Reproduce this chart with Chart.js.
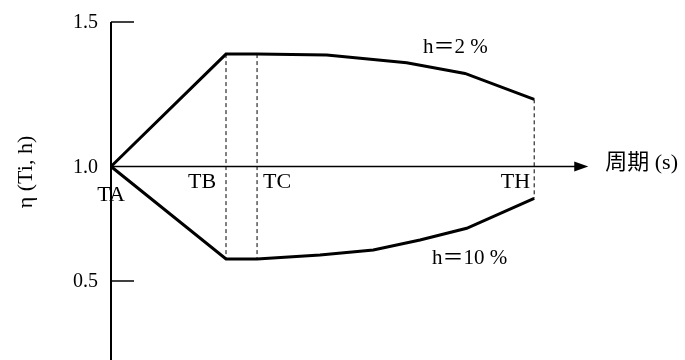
<!DOCTYPE html>
<html><head><meta charset="utf-8">
<script src="https://cdn.jsdelivr.net/npm/chart.js@4/dist/chart.umd.min.js"></script>
<style>html,body{margin:0;padding:0;background:#fff}#wrap{width:685px;height:360px}</style>
</head><body><div id="wrap"><canvas id="c" width="685" height="360"></canvas></div>
<script>
// ---- data ----
const periodLabels = ["TA", "TB", "TC", "TH"];
const periodValues = [0, 1.0, 1.27, 3.68];
const yTickValues = [1.5, 1.0, 0.5];
const yTickLabels = ["1.5", "1.0", "0.5"];
const h2X = [0, 1.0, 1.27, 1.876, 2.571, 3.078, 3.68];
const h2Y = [1.0, 1.389, 1.389, 1.386, 1.359, 1.322, 1.2325];
const h10X = [0, 1.0, 1.27, 1.817, 2.281, 2.687, 3.093, 3.68];
const h10Y = [1.0, 0.596, 0.596, 0.614, 0.635, 0.679, 0.730, 0.861];
const seriesLabels = ["h\uFF1D2 %", "h\uFF1D10 %"];
const seriesLabelAt = [[2.713, 1.413], [2.791, 0.600]];
const xTitle = "周期 (s)";
const yTitle = "\u03B7 (Ti, h)";

// piecewise vertical scale: above 1.0 stretched
class PiecewiseScale extends Chart.LinearScale {
  static id = 'piecewise';
  static defaults = {};
  _f(v){ const k = this.options.stretch || 1, b = this.options.breakAt || 1; return v < b ? v : b + (v - b) * k; }
  _fi(f){ const k = this.options.stretch || 1, b = this.options.breakAt || 1; return f < b ? f : b + (f - b) / k; }
  getPixelForValue(v){
    const a = this._f(this.min), z = this._f(this.max);
    return this.bottom - (this._f(v) - a) / (z - a) * (this.bottom - this.top);
  }
  getValueForPixel(p){
    const a = this._f(this.min), z = this._f(this.max);
    return this._fi(a + (this.bottom - p) / (this.bottom - this.top) * (z - a));
  }
}
Chart.register(PiecewiseScale);

const toPts = (xs, ys) => xs.map((x, i) => ({x, y: ys[i]}));
const serif = '"Liberation Serif", "DejaVu Serif", serif';
const cjk = '"Liberation Serif", "Noto Sans CJK SC", serif';

const overlay = {
  id: 'overlay',
  beforeDatasetsDraw(chart){
    const ctx = chart.ctx, xs = chart.scales.x, ys = chart.scales.y;
    const x0 = xs.getPixelForValue(0), y1 = ys.getPixelForValue(1.0);
    ctx.save();
    ctx.strokeStyle = '#000'; ctx.fillStyle = '#000';
    // y axis
    ctx.lineWidth = 2;
    ctx.beginPath(); ctx.moveTo(x0, ys.getPixelForValue(1.5)); ctx.lineTo(x0, chart.height); ctx.stroke();
    // y ticks (inside)
    ctx.lineWidth = 1.5;
    [1.5, 0.5].forEach(v => { const y = ys.getPixelForValue(v); ctx.beginPath(); ctx.moveTo(x0, y); ctx.lineTo(x0 + 23, y); ctx.stroke(); });
    // x axis with arrow
    const xe = xs.getPixelForValue(4.15);
    ctx.lineWidth = 1.3;
    ctx.beginPath(); ctx.moveTo(x0, y1); ctx.lineTo(xe - 12, y1); ctx.stroke();
    ctx.beginPath(); ctx.moveTo(xe, y1); ctx.lineTo(xe - 14, y1 - 5); ctx.lineTo(xe - 14, y1 + 5); ctx.closePath(); ctx.fill();
    // dashed verticals
    ctx.lineWidth = 1; ctx.setLineDash([4, 3]);
    const dv = [[periodValues[1], h2Y[1], h10Y[1]], [periodValues[2], h2Y[2], h10Y[2]], [periodValues[3], h2Y[h2Y.length-1], h10Y[h10Y.length-1]]];
    dv.forEach(([xv, a, b]) => { const px = xs.getPixelForValue(xv); ctx.beginPath(); ctx.moveTo(px, ys.getPixelForValue(a)); ctx.lineTo(px, ys.getPixelForValue(b)); ctx.stroke(); });
    ctx.setLineDash([]);
    // tick labels
    ctx.font = '20px ' + serif; ctx.textAlign = 'right'; ctx.textBaseline = 'middle';
    yTickValues.forEach((v, i) => ctx.fillText(yTickLabels[i], x0 - 13, ys.getPixelForValue(v) + 1));
    // period labels
    ctx.font = '22px ' + serif; ctx.textBaseline = 'middle';
    const offs = [[0, 'center', 29], [-24, 'center', 16], [6, 'left', 16], [-4, 'right', 16]];
    periodLabels.forEach((t, i) => { ctx.textAlign = offs[i][1]; ctx.fillText(t, xs.getPixelForValue(periodValues[i]) + offs[i][0], y1 + offs[i][2]); });
    // series labels
    ctx.font = '21px ' + cjk; ctx.textAlign = 'left';
    seriesLabels.forEach((t, i) => ctx.fillText(t, xs.getPixelForValue(seriesLabelAt[i][0]), ys.getPixelForValue(seriesLabelAt[i][1])));
    // axis titles
    ctx.font = '22px ' + cjk; ctx.textAlign = 'left';
    ctx.fillText(xTitle, xe + 17, y1 - 3);
    ctx.save(); ctx.translate(26, 172); ctx.rotate(-Math.PI / 2);
    ctx.font = '22px ' + serif; ctx.textAlign = 'center'; ctx.fillText(yTitle, 0, 0); ctx.restore();
    ctx.restore();
  }
};

new Chart(document.getElementById('c'), {
  type: 'line',
  data: { datasets: [
    { label: seriesLabels[0], data: toPts(h2X, h2Y), borderColor: '#000', borderWidth: 3, pointRadius: 0, tension: 0, fill: false },
    { label: seriesLabels[1], data: toPts(h10X, h10Y), borderColor: '#000', borderWidth: 3, pointRadius: 0, tension: 0, fill: false }
  ]},
  options: {
    responsive: false, animation: false, events: [],
    layout: { padding: { left: 111, right: 685 - 111 - 4.5 * 115, top: 22, bottom: 0 } },
    plugins: { legend: { display: false }, tooltip: { enabled: false } },
    scales: {
      x: { type: 'linear', min: 0, max: 4.5, display: false },
      y: { type: 'piecewise', min: 0.155, max: 1.5, stretch: 1.262, breakAt: 1.0, display: false }
    }
  },
  plugins: [overlay]
});
</script></body></html>
